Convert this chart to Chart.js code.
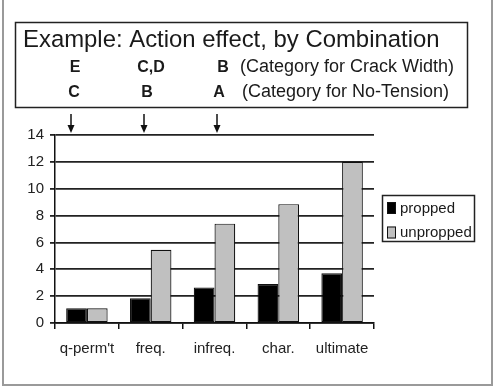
<!DOCTYPE html>
<html>
<head>
<meta charset="utf-8">
<script src="https://cdn.jsdelivr.net/npm/chart.js@4.4.1/dist/chart.umd.min.js"></script>
<style>
  html, body { margin: 0; padding: 0; background: #fff; }
  canvas { display: block; }
</style>
</head>
<body>
<canvas id="chart" width="494" height="388"></canvas>
<script>
const categories = ["q-perm't", 'freq.', 'infreq.', 'char.', 'ultimate'];
const seriesLabels = ['propped', 'unpropped'];
const proppedValues = [1.1, 1.85, 2.65, 2.9, 3.7];
const unproppedValues = [1.1, 5.45, 7.4, 8.85, 12.0];
const yMin = 0, yMax = 14, yStep = 2;

const titleText = 'Example: Action effect, by Combination';
const crackWidthCats = ['E', 'C,D', 'B'];
const noTensionCats = ['C', 'B', 'A'];
const crackWidthNote = '(Category for Crack Width)';
const noTensionNote = '(Category for No-Tension)';

const FONT = 'Arial, "Liberation Sans", sans-serif';

const data = {
    labels: categories,
    datasets: [
        {
            label: seriesLabels[0],
            data: proppedValues,
            backgroundColor: '#000000',
            borderColor: '#111111',
            borderWidth: 1.2,
            borderSkipped: false
        },
        {
            label: seriesLabels[1],
            data: unproppedValues,
            backgroundColor: '#c0c0c0',
            borderColor: '#111111',
            borderWidth: 1.2,
            borderSkipped: false
        }
    ]
};

// draws the frame, the title box, the arrows and the legend
const decorations = {
    id: 'decorations',
    beforeDraw: (chart) => {
        const ctx = chart.ctx;
        ctx.save();
        ctx.fillStyle = '#ffffff';
        ctx.fillRect(0, 0, chart.width, chart.height);
        ctx.restore();
    },
    afterDraw: (chart) => {
        const ctx = chart.ctx;
        ctx.save();

        // outer frame
        ctx.strokeStyle = '#9a9a9a';
        ctx.lineWidth = 2;
        ctx.strokeRect(3, -2, 489, 387);

        // title box
        ctx.strokeStyle = '#222';
        ctx.lineWidth = 1.5;
        ctx.strokeRect(15.5, 22.5, 452, 85);

        ctx.fillStyle = '#1a1a1a';
        ctx.textBaseline = 'alphabetic';
        ctx.textAlign = 'left';
        ctx.font = '23.9px ' + FONT;
        ctx.fillText(titleText, 23, 47);

        const colX = [75, 151, 223];
        const colX2 = [74, 147, 219];
        ctx.font = 'bold 16px ' + FONT;
        ctx.textAlign = 'center';
        crackWidthCats.forEach((c, i) => ctx.fillText(c, colX[i], 72));
        noTensionCats.forEach((c, i) => ctx.fillText(c, colX2[i], 97));

        ctx.textAlign = 'left';
        ctx.font = '18px ' + FONT;
        ctx.fillText(crackWidthNote, 240, 72);
        ctx.fillText(noTensionNote, 242, 97);

        // arrows
        const arrowX = [71, 144, 217];
        ctx.strokeStyle = '#111';
        ctx.fillStyle = '#111';
        ctx.lineWidth = 1.5;
        arrowX.forEach((x) => {
            ctx.beginPath();
            ctx.moveTo(x, 114);
            ctx.lineTo(x, 127);
            ctx.stroke();
            ctx.beginPath();
            ctx.moveTo(x - 3.5, 125);
            ctx.lineTo(x + 3.5, 125);
            ctx.lineTo(x, 133);
            ctx.closePath();
            ctx.fill();
        });

        // legend
        ctx.strokeStyle = '#222';
        ctx.lineWidth = 1.5;
        ctx.strokeRect(382.5, 195.5, 92, 46);
        ctx.font = '15px ' + FONT;
        ctx.textBaseline = 'middle';
        chart.data.datasets.forEach((ds, i) => {
            const y = 202 + i * 24.5;
            ctx.fillStyle = ds.backgroundColor;
            ctx.fillRect(387, y, 9, 12);
            ctx.strokeStyle = '#111';
            ctx.lineWidth = 1;
            ctx.strokeRect(387.5, y + 0.5, 8, 11);
            ctx.fillStyle = '#1a1a1a';
            ctx.fillText(ds.label, 400, y + 6.5);
        });

        ctx.restore();
    }
};

const config = {
    type: 'bar',
    data: data,
    options: {
        responsive: false,
        animation: false,
        categoryPercentage: 0.65,
        barPercentage: 1.0,
        layout: {
            padding: { top: 135, right: 120, left: 0, bottom: 0 }
        },
        plugins: {
            legend: { display: false },
            tooltip: { enabled: false }
        },
        scales: {
            x: {
                grid: {
                    offset: true,
                    drawOnChartArea: false,
                    tickLength: 6,
                    color: '#111',
                    lineWidth: 1.5
                },
                border: { color: '#111', width: 1.5 },
                ticks: {
                    color: '#222',
                    padding: 11,
                    maxRotation: 0,
                    autoSkip: false,
                    font: { family: FONT, size: 15 }
                },
                afterFit: (scale) => { scale.height = 65; }
            },
            y: {
                min: yMin,
                max: yMax,
                grid: {
                    color: '#222',
                    lineWidth: 1.8,
                    tickLength: 5
                },
                border: { color: '#111', width: 1.5 },
                ticks: {
                    stepSize: yStep,
                    color: '#222',
                    padding: 6,
                    font: { family: FONT, size: 15 }
                },
                afterFit: (scale) => { scale.height = scale.height; scale.width = 55; }
            }
        }
    },
    plugins: [decorations]
};

let chart = new Chart(document.getElementById('chart'), config);
</script>
</body>
</html>
